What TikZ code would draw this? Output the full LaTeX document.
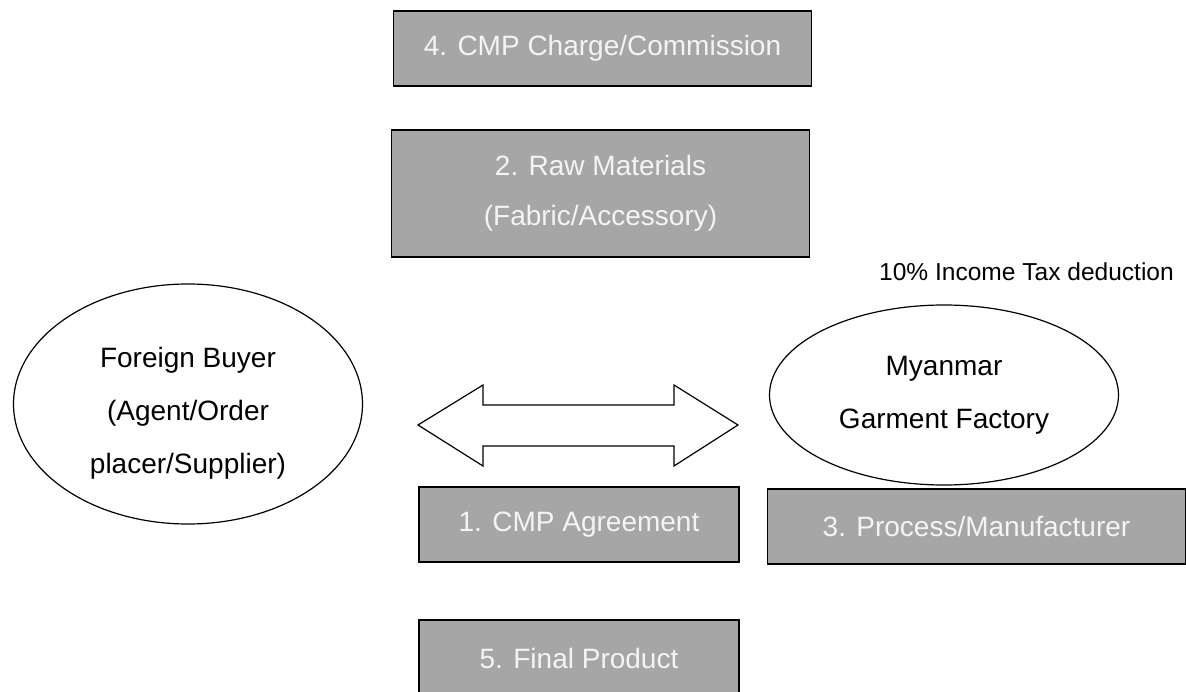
\documentclass[tikz,border=0pt]{standalone}
\usepackage{fontspec}
\setmainfont{Liberation Sans}
\usepackage{tikz}
\usetikzlibrary{shapes,arrows}
\definecolor{boxgray}{HTML}{A6A6A6}
\definecolor{boxtext}{HTML}{F4F4F4}
\newcommand{\wideb}{313.5pt}
\newcommand{\narrowb}{240pt}
\newcommand{\lowb}{56.25pt}

\begin{document}
\begin{tikzpicture}[x = 0.75pt, y = -0.75pt]
                %\draw[help lines] (0,0) grid (1186,692);
                \useasboundingbox (0,0) rectangle (1186,692);
                \tikzset{stepbox/.style = {draw, line width = 1.2pt, fill = boxgray, text = boxtext, align = center,
                    inner sep = 0pt, minimum height = \lowb, font = \fontsize{21}{37.5}\selectfont}}
                \tikzset{party/.style = {draw, ellipse, line width = 0.9pt, inner sep = 0pt, align = center,
                    minimum width = 261.75pt, font = \fontsize{21}{39.75}\selectfont}}
                % boxes of the steps
                \node[stepbox, minimum width = \wideb] (charge) at (602.5,48.5) {4. CMP Charge/Commission};
                \node[stepbox, minimum width = \wideb, minimum height = 95.25pt] (raw) at (600.5,193.5) {2. Raw Materials\\(Fabric/Accessory)};
                \node[stepbox, minimum width = \narrowb] (cmp) at (579,524.5) {1. CMP Agreement};
                \node[stepbox, minimum width = \wideb] (process) at (976.5,526.5) {3. Process/Manufacturer};
                \node[stepbox, minimum width = \narrowb, minimum height = 57pt] (final) at (579,658) {5. Final Product};
                % the two parties
                \node[party, minimum height = 180pt, text height = 108pt] (buyer) at (188,404) {Foreign Buyer\\(Agent/Order\\placer/Supplier)};
                \node[party, minimum height = 135pt] (factory) at (944,395) {Myanmar\\Garment Factory};
                \node[font = \fontsize{18.4}{22}\selectfont] (tax) at (1026.5,272) {10\% Income Tax deduction};
                % double arrow between them
                \draw[line width = 0.9pt] (418,425) -- (483,385) -- (483,405) -- (674,405) -- (674,385) -- (738,425)
                    -- (674,466) -- (674,446) -- (483,446) -- (483,466) -- cycle;
\end{tikzpicture}
\end{document}
